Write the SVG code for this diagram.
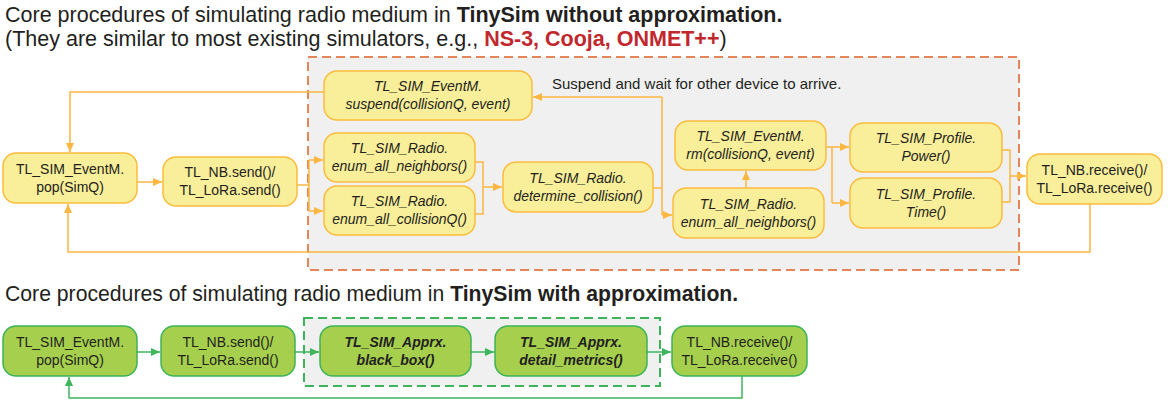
<svg xmlns="http://www.w3.org/2000/svg" width="1168" height="403" viewBox="0 0 1168 403">
<style>
text{font-family:"Liberation Sans",Arial,sans-serif;fill:#231f20}
.t{font-size:21.5px}
.b{font-weight:bold}
.red{fill:#c1272d;font-weight:bold}
.n{font-size:14px;text-anchor:middle}
.i{font-style:italic}
.y rect{fill:#f9ee99;stroke:#fbbc3e;stroke-width:1.5}
.g rect{fill:#a6cf4d;stroke:#3db35a;stroke-width:1.5}
.cy{fill:none;stroke:#fbb740;stroke-width:1.5}
.cg{fill:none;stroke:#3fb55e;stroke-width:1.5}
</style>
<defs>
<marker id="ay" markerUnits="userSpaceOnUse" markerWidth="10" markerHeight="10" refX="9" refY="5" orient="auto"><path d="M0,1 L9,5 L0,9 z" fill="#fbb740"/></marker>
<marker id="ag" markerUnits="userSpaceOnUse" markerWidth="10" markerHeight="10" refX="9" refY="5" orient="auto"><path d="M0,1 L9,5 L0,9 z" fill="#3fb55e"/></marker>
</defs>
<rect width="1168" height="403" fill="#ffffff"/>
<text class="t" x="5" y="22">Core procedures of simulating radio medium in <tspan class="b">TinySim without approximation.</tspan></text>
<text class="t" x="5" y="46">(They are similar to most existing simulators, e.g., <tspan class="red">NS-3, Cooja, ONMET++</tspan>)</text>
<text class="t" x="5" y="301" style="font-size:21.2px">Core procedures of simulating radio medium in <tspan class="b">TinySim with approximation.</tspan></text>
<rect x="308" y="57" width="711" height="213" fill="#f0f0f0" stroke="#e5865a" stroke-width="2" stroke-dasharray="9,5"/>
<rect x="304" y="318" width="356" height="68" fill="#f0f0f0" stroke="#3db35a" stroke-width="2" stroke-dasharray="9,5"/>
<text x="552" y="89" style="font-size:15px">Suspend and wait for other device to arrive.</text>
<g id="connectors">
<path class="cy" d="M324,92 H70 V152" marker-end="url(#ay)"/>
<path class="cy" d="M137,182 H162" marker-end="url(#ay)"/>
<path class="cy" d="M297,185 H309"/>
<path class="cy" d="M309,160 V211"/>
<path class="cy" d="M309,160 H323" marker-end="url(#ay)"/>
<path class="cy" d="M309,211 H323" marker-end="url(#ay)"/>
<path class="cy" d="M475,162 H483 V214 H475"/>
<path class="cy" d="M483,187 H502" marker-end="url(#ay)"/>
<path class="cy" d="M653,188 H662"/>
<path class="cy" d="M662,97 V215"/>
<path class="cy" d="M662,97 H533" marker-end="url(#ay)"/>
<path class="cy" d="M662,215 H672" marker-end="url(#ay)"/>
<path class="cy" d="M746,188 V171" marker-end="url(#ay)"/>
<path class="cy" d="M826,147 H832 V203"/>
<path class="cy" d="M832,147 H849" marker-end="url(#ay)"/>
<path class="cy" d="M832,203 H849" marker-end="url(#ay)"/>
<path class="cy" d="M1002,150 H1010 V202 H1002"/>
<path class="cy" d="M1010,176 H1026" marker-end="url(#ay)"/>
<path class="cy" d="M1090,204 V252 H68 V204" marker-end="url(#ay)"/>
<path class="cg" d="M137,352 H160" marker-end="url(#ag)"/>
<path class="cg" d="M295,352 H319" marker-end="url(#ag)"/>
<path class="cg" d="M471,352 H494" marker-end="url(#ag)"/>
<path class="cg" d="M647,352 H671" marker-end="url(#ag)"/>
<path class="cg" d="M742,376 V398 H69 V377" marker-end="url(#ag)"/>
</g>
<g id="pop" class="y"><rect x="3" y="153" width="134" height="50" rx="13"/><text class="n" x="70" y="174">TL_SIM_EventM.</text><text class="n" x="70" y="192">pop(SimQ)</text></g>
<g id="send" class="y"><rect x="163" y="157" width="134" height="49" rx="13"/><text class="n" x="230" y="177">TL_NB.send()/</text><text class="n" x="230" y="195">TL_LoRa.send()</text></g>
<g id="suspend" class="y"><rect x="324" y="71" width="208" height="49" rx="13"/><text class="n i" x="428" y="91">TL_SIM_EventM.</text><text class="n i" x="428" y="109">suspend(collisionQ, event)</text></g>
<g id="enumN" class="y"><rect x="324" y="133" width="151" height="49" rx="13"/><text class="n i" x="399.5" y="153">TL_SIM_Radio.</text><text class="n i" x="399.5" y="171">enum_all_neighbors()</text></g>
<g id="enumC" class="y"><rect x="324" y="186" width="151" height="49" rx="13"/><text class="n i" x="399.5" y="206">TL_SIM_Radio.</text><text class="n i" x="399.5" y="224">enum_all_collisionQ()</text></g>
<g id="determine" class="y"><rect x="503" y="162" width="150" height="50" rx="13"/><text class="n i" x="578" y="183">TL_SIM_Radio.</text><text class="n i" x="578" y="201">determine_collision()</text></g>
<g id="rm" class="y"><rect x="675" y="121" width="151" height="49" rx="13"/><text class="n i" x="750.5" y="141">TL_SIM_EventM.</text><text class="n i" x="750.5" y="159">rm(collisionQ, event)</text></g>
<g id="enumN2" class="y"><rect x="673" y="188" width="151" height="50" rx="13"/><text class="n i" x="748.5" y="209">TL_SIM_Radio.</text><text class="n i" x="748.5" y="227">enum_all_neighbors()</text></g>
<g id="power" class="y"><rect x="850" y="123" width="152" height="49" rx="13"/><text class="n i" x="926" y="143">TL_SIM_Profile.</text><text class="n i" x="926" y="161">Power()</text></g>
<g id="time" class="y"><rect x="850" y="178" width="152" height="50" rx="13"/><text class="n i" x="926" y="199">TL_SIM_Profile.</text><text class="n i" x="926" y="217">Time()</text></g>
<g id="receive" class="y"><rect x="1027" y="154" width="135" height="50" rx="13"/><text class="n" x="1094.5" y="175">TL_NB.receive()/</text><text class="n" x="1094.5" y="193">TL_LoRa.receive()</text></g>
<g id="pop2" class="g"><rect x="3" y="326" width="134" height="50" rx="13"/><text class="n" x="70" y="347">TL_SIM_EventM.</text><text class="n" x="70" y="365">pop(SimQ)</text></g>
<g id="send2" class="g"><rect x="161" y="326" width="134" height="50" rx="13"/><text class="n" x="228" y="347">TL_NB.send()/</text><text class="n" x="228" y="365">TL_LoRa.send()</text></g>
<g id="blackbox" class="g"><rect x="320" y="326" width="151" height="50" rx="13"/><text class="n i b" x="395.5" y="347">TL_SIM_Apprx.</text><text class="n i b" x="395.5" y="365">black_box()</text></g>
<g id="detail" class="g"><rect x="495" y="326" width="152" height="50" rx="13"/><text class="n i b" x="571" y="347">TL_SIM_Apprx.</text><text class="n i b" x="571" y="365">detail_metrics()</text></g>
<g id="receive2" class="g"><rect x="672" y="326" width="135" height="50" rx="13"/><text class="n" x="739.5" y="347">TL_NB.receive()/</text><text class="n" x="739.5" y="365">TL_LoRa.receive()</text></g>
</svg>
